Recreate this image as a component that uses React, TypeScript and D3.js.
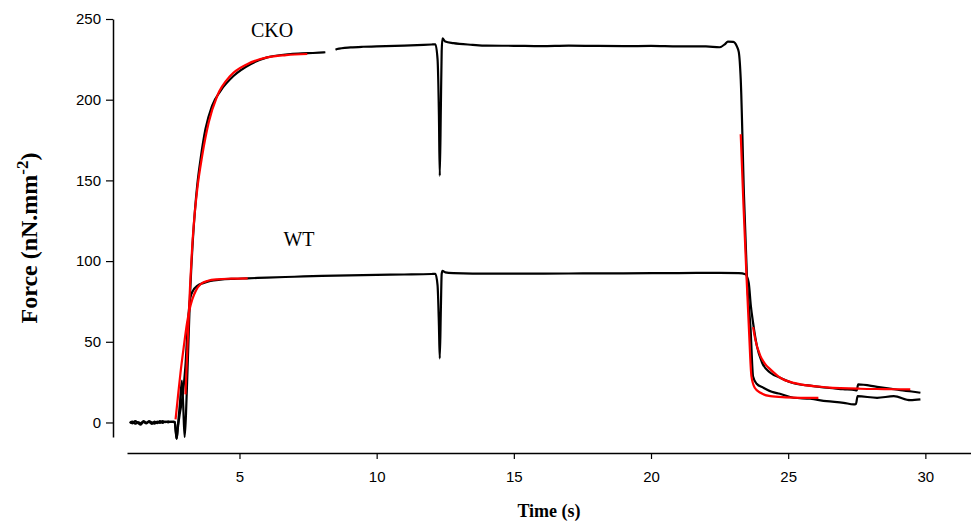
import React, { useEffect, useRef } from "react";
import * as d3 from "d3";

// Data: [time (s), force (nN.mm^-2)]
const wtTrace: [number, number][] = [
  [1.0, 0.2], [1.1, -0.5], [1.2, 0.8], [1.3, -0.3], [1.4, -1.4], [1.5, 0.4], [1.6, -0.6], [1.7, 0.9],
  [1.8, 0.1], [1.9, -0.8], [2.0, 0.6], [2.1, -0.2], [2.2, 0.9], [2.3, 0.2], [2.4, 0.7], [2.5, 0.3],
  [2.6, 0.5], [2.64, 0.2], [2.68, -6], [2.71, -10], [2.75, -4], [2.82, 5], [2.91, 14.3], [3.03, 34.9],
  [3.12, 61.8], [3.21, 77.4], [3.3, 81.5], [3.46, 84.6], [3.7, 86.5], [3.94, 87.7], [4.3, 88.5],
  [4.8, 89.0], [5.28, 89.3], [6.0, 89.8], [7.0, 90.3], [8.0, 90.8], [9.0, 91.2], [10.0, 91.5],
  [11.0, 91.7], [12.0, 92.0], [12.14, 92.1], [12.22, 85], [12.27, 60], [12.3, 39.7], [12.34, 70],
  [12.37, 92], [12.4, 93.9], [12.5, 93.0], [12.8, 92.5], [13.5, 92.2], [15.0, 92.2], [17.0, 92.3],
  [19.0, 92.4], [21.0, 92.6], [22.5, 92.7], [23.2, 92.5], [23.44, 91.8], [23.56, 86.7], [23.64, 72.1],
  [23.72, 61.8], [23.86, 47.3], [24.05, 37.0], [24.35, 30.8], [24.71, 27.7], [25.2, 24.3], [25.8, 22.8],
  [26.41, 21.5], [27.0, 20.6], [27.45, 20.0], [27.5, 19.8], [27.55, 23.6], [28.24, 22.1], [28.7, 21.0],
  [29.09, 20.0], [29.5, 19.2], [29.82, 18.4],
];

const ckoTrace: [number, number][] = [
  [1.0, -0.3], [1.1, 0.5], [1.2, -0.8], [1.3, 0.3], [1.4, -0.6], [1.5, 0.9], [1.6, -0.2], [1.7, 0.4],
  [1.8, -0.9], [1.9, 0.5], [2.0, -0.4], [2.1, 0.8], [2.2, -0.3], [2.3, 0.6], [2.4, 0.1], [2.5, 0.6],
  [2.6, 0.3], [2.64, 0.1], [2.68, -6], [2.71, -10], [2.75, -3], [2.83, 12], [2.9, 26], [2.95, 10],
  [3.0, -9], [3.05, 5], [3.1, 30], [3.15, 55], [3.2, 80], [3.25, 98], [3.3, 113], [3.38, 132],
  [3.46, 147], [3.58, 163], [3.76, 181.8], [4.0, 196.2], [4.31, 205.5], [4.79, 214.8], [5.4, 222.0],
  [6.01, 226.2], [6.86, 228.3], [7.5, 228.8], [8.07, 229.3], [8.13, 229.4], [8.3, NaN], [8.5, 231.0],
  [8.56, 231.4], [9.05, 232.4], [9.5, 232.8], [10.0, 233.0], [11.0, 233.5], [12.0, 234.2], [12.14, 234.3],
  [12.22, 225], [12.27, 190], [12.3, 152.8], [12.34, 195], [12.37, 230], [12.4, 238], [12.5, 236],
  [12.8, 235], [13.5, 234.0], [14.0, 233.5], [15.0, 233.4], [16.0, 233.2], [17.0, 233.5], [18.0, 233.3],
  [19.0, 233.2], [20.0, 233.3], [21.0, 233.0], [22.0, 233.0], [22.5, 232.5], [22.7, 234.5], [22.8, 236.0],
  [23.0, 235.8], [23.13, 233.0], [23.2, 229.5], [23.27, 212.8], [23.39, 140], [23.5, 88.7], [23.63, 57.7],
  [23.72, 28.5], [23.85, 24.0], [24.1, 21.5], [24.4, 19.0], [24.7, 17.8], [25.2, 15.3], [25.8, 14.7],
  [26.4, 13.2], [27.02, 12.2], [27.39, 11.2], [27.47, 11.5], [27.53, 16.3], [28.24, 15.3], [28.85, 16.3],
  [29.45, 13.8], [29.82, 14.3],
];

const ckoRiseFit: [number, number][] = [
  [3.03, 17.4], [3.1, 45], [3.2, 85], [3.28, 110], [3.36, 128], [3.46, 144.5], [3.64, 165.2], [3.88, 186],
  [4.19, 202.4], [4.67, 214.8], [5.28, 222], [6.01, 226.2], [6.7, 227.6], [7.47, 228.3],
];

const wtRiseFit: [number, number][] = [
  [2.67, 1.9], [2.75, 15], [2.85, 30.8], [2.97, 47], [3.09, 61.8], [3.18, 70], [3.28, 76.3],
  [3.42, 82], [3.58, 85.6], [3.85, 87.8], [4.19, 88.7], [4.7, 89.1], [5.3, 89.3],
];

const ckoDecayFit: [number, number][] = [
  [23.27, 178.6], [23.37, 135], [23.48, 90.8], [23.57, 57.7], [23.66, 28.7], [23.78, 21.5],
  [23.99, 18.4], [24.35, 16.3], [24.9, 15.6], [25.45, 15.3], [26.1, 15.3],
];

const wtDecayFit: [number, number][] = [
  [23.72, 59.1], [23.8, 51.5], [23.99, 41.1], [24.17, 36], [24.35, 32.9], [24.71, 27.7], [25.2, 24.5],
  [25.45, 23.6], [26.41, 21.8], [27.63, 20.9], [28.5, 20.7], [29.45, 20.5],
];

const xTicks = [5, 10, 15, 20, 25, 30];
const yTicks = [0, 50, 100, 150, 200, 250];

const W = 971;
const H = 525;

export default function App() {
  const xRef = useRef<SVGGElement>(null);
  const yRef = useRef<SVGGElement>(null);

  const x = d3.scaleLinear().domain([0.9, 31.7]).range([127, 972]);
  const y = d3.scaleLinear().domain([-9, 250]).range([437, 19]);

  const line = d3
    .line<[number, number]>()
    .defined((d) => !Number.isNaN(d[1]))
    .x((d) => x(d[0]))
    .y((d) => y(d[1]))
    .curve(d3.curveMonotoneX);

  useEffect(() => {
    if (xRef.current) {
      const g = d3.select(xRef.current);
      g.selectAll("*").remove();
      g.call(d3.axisBottom(x).tickValues(xTicks).tickSize(6).tickSizeOuter(0).tickPadding(12));
      g.select(".domain").attr("stroke-width", 1.5);
      g.selectAll(".tick line").attr("stroke-width", 1.2);
      g.selectAll(".tick text")
        .attr("font-family", "'Liberation Sans', Arial, sans-serif")
        .attr("font-size", 15)
        .attr("fill", "#000");
    }
    if (yRef.current) {
      const g = d3.select(yRef.current);
      g.selectAll("*").remove();
      g.call(d3.axisLeft(y).tickValues(yTicks).tickSize(7).tickSizeOuter(0).tickPadding(5));
      g.select(".domain").attr("stroke-width", 1.5);
      g.selectAll(".tick line").attr("stroke-width", 1.2);
      g.selectAll(".tick text")
        .attr("font-family", "'Liberation Sans', Arial, sans-serif")
        .attr("font-size", 15)
        .attr("fill", "#000");
    }
  }, []);

  const serif = "'Liberation Serif', 'Times New Roman', serif";

  return (
    <svg
      width={W}
      height={H}
      style={{ position: "absolute", left: 0, top: 0, background: "#fff" }}
    >
      <g ref={xRef} transform={`translate(0,453)`} />
      <g ref={yRef} transform={`translate(113,0)`} />

      <path d={line(wtTrace) || ""} fill="none" stroke="#000" strokeWidth={2.2} strokeLinejoin="round" />
      <path d={line(ckoTrace) || ""} fill="none" stroke="#000" strokeWidth={2.2} strokeLinejoin="round" />

      <path d={line(wtRiseFit) || ""} fill="none" stroke="#ff0000" strokeWidth={2.2} />
      <path d={line(ckoRiseFit) || ""} fill="none" stroke="#ff0000" strokeWidth={2.2} />
      <path d={line(wtDecayFit) || ""} fill="none" stroke="#ff0000" strokeWidth={2.2} />
      <path d={line(ckoDecayFit) || ""} fill="none" stroke="#ff0000" strokeWidth={2.2} />

      <text x={272} y={37} fontFamily={serif} fontSize={20} textAnchor="middle">CKO</text>
      <text x={299} y={246} fontFamily={serif} fontSize={20} textAnchor="middle">WT</text>

      <text x={549} y={517} fontFamily={serif} fontSize={18} fontWeight="bold" textAnchor="middle">
        Time (s)
      </text>
      <text
        transform={`translate(37,238) rotate(-90)`}
        fontFamily={serif}
        fontSize={24}
        fontWeight="bold"
        textAnchor="middle"
      >
        Force (nN.mm<tspan dy={-9} fontSize={17}>-2</tspan><tspan dy={9}>)</tspan>
      </text>
    </svg>
  );
}
